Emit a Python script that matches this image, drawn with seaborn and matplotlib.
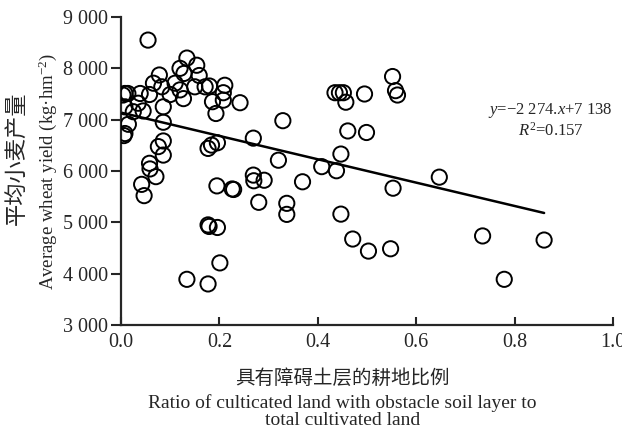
import matplotlib
matplotlib.use("Agg")
import matplotlib.pyplot as plt
from matplotlib.ticker import FuncFormatter, MultipleLocator
import seaborn as sns
import pandas as pd
import numpy as np

# ratio of cultivated land with obstacle soil layer
ratio = [0.055, 0.134, 0.120, 0.154, 0.128, 0.159, 0.078, 0.066, 0.083, 0.110,
         0.120, 0.150, 0.171, 0.100, 0.127, 0.058, 0.039, 0.008, 0.014, 0.004,
         0.086, 0.035, 0.008, 0.025, 0.045, 0.015, 0.086, 0.008, 0.006, 0.086,
         0.076, 0.086, 0.058, 0.059, 0.071, 0.042, 0.047, 0.177, 0.177, 0.180,
         0.211, 0.208, 0.208, 0.186, 0.242, 0.193, 0.269, 0.184, 0.196, 0.195,
         0.226, 0.229, 0.269, 0.270, 0.291, 0.280, 0.179, 0.196, 0.201, 0.134,
         0.177, 0.329, 0.320, 0.369, 0.337, 0.337, 0.435, 0.444, 0.452, 0.457,
         0.495, 0.552, 0.558, 0.562, 0.461, 0.499, 0.447, 0.408, 0.438, 0.647,
         0.553, 0.447, 0.471, 0.503, 0.548, 0.735, 0.860, 0.779]
# average wheat yield, kg/hm2
wheat_yield = [8550, 8200, 8000, 8060, 7900, 7860, 7870, 7710, 7640, 7710,
               7580, 7640, 7640, 7490, 7410, 7490, 7510, 7510, 7510, 7480,
               7250, 7320, 7250, 7155, 7170, 6910, 6950, 6730, 6690, 6585,
               6475, 6310, 6150, 6040, 5890, 5740, 5520, 6440, 4950, 7655,
               7670, 7525, 7380, 7350, 7330, 7120, 6640, 6505, 6550, 5710,
               5650, 5640, 5920, 5810, 5820, 5390, 4920, 4900, 4210, 3890,
               3800, 6980, 6210, 5790, 5370, 5155, 7525, 7525, 7525, 7340,
               7500, 7840, 7565, 7480, 6780, 6750, 6330, 6085, 6005, 5880,
               5665, 5160, 4675, 4440, 4485, 4735, 4655, 3890]

slope = -2274
intercept = 7138
r2 = 0.157

df = pd.DataFrame({"ratio": ratio, "yield": wheat_yield})

sns.set_style("ticks")
plt.rcParams["font.family"] = ["Liberation Serif", "Noto Sans CJK SC"]
plt.rcParams["mathtext.fontset"] = "custom"
plt.rcParams["mathtext.rm"] = "Liberation Serif"
plt.rcParams["mathtext.it"] = "Liberation Serif:italic"

fig = plt.figure(figsize=(6.22, 4.29), dpi=100)
ax = fig.add_axes([0.1945, 0.2424, 0.791, 0.718])

sns.scatterplot(data=df, x="ratio", y="yield", ax=ax, marker="o", s=120,
                facecolor="none", edgecolor="black", linewidth=1.4, zorder=3)

# fitted line over the data range
line_x = np.array([0.0, df["ratio"].max()])
line_df = pd.DataFrame({"x": line_x, "y": slope * line_x + intercept})
sns.lineplot(data=line_df, x="x", y="y", ax=ax, color="black", linewidth=1.8)

ax.set_xlim(0, 1.0)
ax.set_ylim(3000, 9000)
ax.xaxis.set_major_locator(MultipleLocator(0.2))
ax.yaxis.set_major_locator(MultipleLocator(1000))
ax.xaxis.set_major_formatter(FuncFormatter(lambda v, p: f"{v:.1f}"))
ax.yaxis.set_major_formatter(FuncFormatter(lambda v, p: f"{v:,.0f}".replace(",", " ")))
ax.tick_params(axis="x", direction="in", length=6, width=1.5, labelsize=14.5, pad=6)
ax.tick_params(axis="y", direction="out", length=7, width=1.5, labelsize=14.5, pad=2)
for side in ["left", "bottom"]:
    ax.spines[side].set_linewidth(1.6)
sns.despine(ax=ax)
ax.set_xlabel("")
ax.set_ylabel("")

ax.text(0.873, 6990, f"$\\it{{y}}$=\u2212{abs(slope) // 1000} {abs(slope) % 1000:03d}.$\\it{{x}}$+"
        f"{intercept // 1000} {intercept % 1000:03d}\n$\\it{{R}}^2$={r2:.3f}",
        ha="center", va="center", fontsize=12, linespacing=1.15)

fig.text(0.551, 0.119, "具有障碍土层的耕地比例", ha="center", va="center",
         fontsize=14, family=["Noto Sans CJK SC"])
fig.text(0.551, 0.041, "Ratio of culticated land with obstacle soil layer to\ntotal cultivated land",
         ha="center", va="center", fontsize=14, linespacing=0.98)
fig.text(0.028, 0.63, "平均小麦产量", ha="center", va="center", rotation=90,
         fontsize=16, family=["Noto Sans CJK SC"])
fig.text(0.076, 0.601, "Average wheat yield (kg·hm$^{-2}$)", ha="center", va="center",
         rotation=90, fontsize=13.5)

fig.savefig("out.png", dpi=100)
